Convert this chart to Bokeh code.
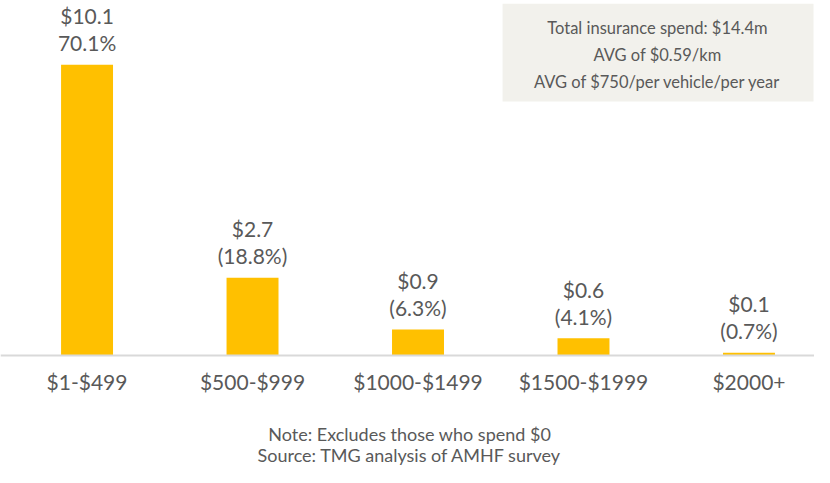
from bokeh.plotting import figure
from bokeh.models import ColumnDataSource, Range1d, BoxAnnotation, Label, FixedTicker
from bokeh.core.properties import value
from bokeh.embed import file_html
from bokeh.resources import INLINE

categories = ["$1-$499", "$500-$999", "$1000-$1499", "$1500-$1999", "$2000+"]
spend_m = [10.1, 2.7, 0.9, 0.6, 0.1]
value_labels = ["$10.1", "$2.7", "$0.9", "$0.6", "$0.1"]
pct_labels = ["70.1%", "(18.8%)", "(6.3%)", "(4.1%)", "(0.7%)"]
box_lines = ["Total insurance spend: $14.4m", "AVG of $0.59/km", "AVG of $750/per vehicle/per year"]
notes = ["Note: Excludes those who spend $0", "Source: TMG analysis of AMHF survey"]

FONT = "Lato"
GREY = "#595959"

xs = list(range(len(categories)))
src = ColumnDataSource(dict(x=xs, v=spend_m, vl=value_labels, pl=pct_labels))

p = figure(width=814, height=467, x_range=Range1d(-0.523, 4.396),
           y_range=Range1d(-3.889, 12.33), output_backend="svg", toolbar_location=None,
           min_border_left=0, min_border_right=0, min_border_top=0, min_border_bottom=0)
p.outline_line_color = None
p.xgrid.grid_line_color = None
p.ygrid.grid_line_color = None
p.yaxis.visible = False

p.vbar(x="x", top="v", width=0.314, source=src, color="#FFC000", line_color=None)

p.text(x="x", y="v", text="pl", source=src, y_offset=-22, text_align="center",
       text_baseline="middle", text_font=value(FONT), text_font_size="21px", text_color=GREY)
p.text(x="x", y="v", text="vl", source=src, y_offset=-49, text_align="center",
       text_baseline="middle", text_font=value(FONT), text_font_size="21px", text_color=GREY)

ax = p.xaxis[0]
ax.fixed_location = 0
ax.ticker = FixedTicker(ticks=xs)
ax.major_label_overrides = {i: c for i, c in zip(xs, categories)}
ax.axis_line_color = "#D9D9D9"
ax.axis_line_width = 2
ax.major_tick_line_color = None
ax.minor_tick_line_color = None
ax.major_tick_out = 0
ax.major_label_standoff = 13
ax.major_label_text_font = FONT
ax.major_label_text_font_size = "21px"
ax.major_label_text_color = GREY

box = BoxAnnotation(left=2.511, right=4.39, bottom=8.82, top=12.22,
                    fill_color="#F2F1EC", fill_alpha=1.0, line_color=None)
p.add_layout(box)
for txt, yv in zip(box_lines, [11.39, 10.45, 9.51]):
    p.add_layout(Label(x=3.447, y=yv, text=txt, text_align="center", text_baseline="middle",
                       text_font=FONT, text_font_size="16.5px", text_color=GREY))

for txt, yv in zip(notes, [-2.71, -3.47]):
    p.add_layout(Label(x=1.95, y=yv, text=txt, text_align="center", text_baseline="middle",
                       text_font=FONT, text_font_size="18px", text_color=GREY))

open("out.html", "w").write(file_html(p, INLINE))
